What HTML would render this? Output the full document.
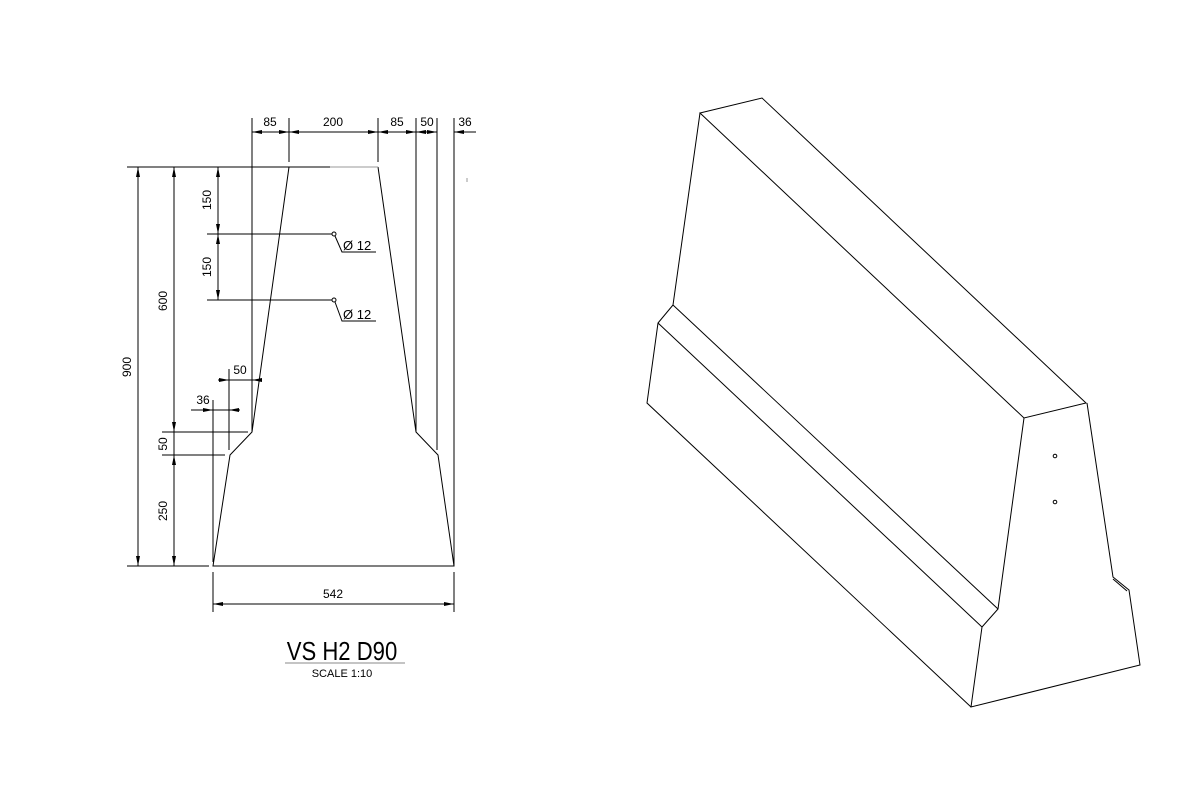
<!DOCTYPE html>
<html><head><style>html,body{margin:0;padding:0;background:#fff}svg{display:block}text{font-family:"Liberation Sans",sans-serif;fill:#000}</style></head>
<body>
<svg width="1200" height="800" viewBox="0 0 1200 800" xmlns="http://www.w3.org/2000/svg">
<defs>
<marker id="a" viewBox="0 0 10 4" refX="10" refY="2" markerWidth="10" markerHeight="4" orient="auto-start-reverse" markerUnits="userSpaceOnUse"><path d="M0,0 L10,2 L0,4 z" fill="#000"/></marker>
</defs>
<g stroke="#000" stroke-width="1" fill="none">
<polyline points="289,167 252,432 230,455 213,566 454,566 438,455 416,432 378,167"/>
<line x1="127" y1="167" x2="330" y2="167"/>
<line x1="330" y1="167" x2="378" y2="167" stroke="#999"/>
<line x1="127" y1="566" x2="209" y2="566"/>
<line x1="252" y1="118" x2="252" y2="432"/>
<line x1="289" y1="118" x2="289" y2="162"/>
<line x1="378" y1="118" x2="378" y2="162"/>
<line x1="416" y1="118" x2="416" y2="432"/>
<line x1="437" y1="118" x2="437" y2="450"/>
<line x1="454" y1="118" x2="454" y2="566"/>
<line x1="467" y1="178" x2="467" y2="182" stroke="#999"/>
<line x1="252" y1="132" x2="289" y2="132" marker-start="url(#a)" marker-end="url(#a)"/>
<line x1="289" y1="132" x2="378" y2="132" marker-start="url(#a)" marker-end="url(#a)"/>
<line x1="378" y1="132" x2="416" y2="132" marker-start="url(#a)" marker-end="url(#a)"/>
<line x1="416" y1="132" x2="437" y2="132" marker-start="url(#a)" marker-end="url(#a)"/>
<line x1="454" y1="132" x2="476" y2="132"/>
<line x1="464" y1="132" x2="454" y2="132" marker-end="url(#a)"/>
<line x1="138" y1="167" x2="138" y2="566" marker-start="url(#a)" marker-end="url(#a)"/>
<line x1="174" y1="167" x2="174" y2="432" marker-start="url(#a)" marker-end="url(#a)"/>
<line x1="174" y1="432" x2="174" y2="455"/>
<line x1="174" y1="455" x2="174" y2="566" marker-start="url(#a)" marker-end="url(#a)"/>
<line x1="218" y1="167" x2="218" y2="234" marker-start="url(#a)" marker-end="url(#a)"/>
<line x1="218" y1="234" x2="218" y2="300" marker-start="url(#a)" marker-end="url(#a)"/>
<line x1="207" y1="234" x2="332" y2="234"/>
<line x1="207" y1="300" x2="332" y2="300"/>
<circle cx="334" cy="234" r="2"/><circle cx="334" cy="300" r="2"/>
<polyline points="335,236 342,252 376,252"/>
<polyline points="335,302 342,321 376,321"/>
<line x1="162" y1="432" x2="248" y2="432"/>
<line x1="162" y1="455" x2="225" y2="455"/>
<line x1="229" y1="369" x2="229" y2="450"/>
<line x1="218" y1="380" x2="229" y2="380" marker-end="url(#a)"/>
<line x1="229" y1="380" x2="262" y2="380"/>
<line x1="262" y1="380" x2="252" y2="380" marker-end="url(#a)"/>
<line x1="213" y1="400" x2="213" y2="562"/>
<line x1="191" y1="410" x2="213" y2="410" marker-end="url(#a)"/>
<line x1="213" y1="410" x2="240" y2="410"/>
<line x1="240" y1="410" x2="229" y2="410" marker-end="url(#a)"/>
<line x1="213" y1="572" x2="213" y2="612"/>
<line x1="454" y1="572" x2="454" y2="612"/>
<line x1="213" y1="604" x2="454" y2="604" marker-start="url(#a)" marker-end="url(#a)"/>
<line x1="285" y1="663" x2="405" y2="663" stroke="#888"/>
<polygon points="700,113 762,98 1086,403 1024,418"/>
<polyline points="700,113 673,305 658,323 647,403 971,707"/>
<line x1="673" y1="305" x2="998" y2="609"/>
<line x1="658" y1="323" x2="982" y2="627"/>
<polyline points="1024,418 998,609 982,627 971,707 1140,665 1129,590 1113,577 1087,403"/>
<line x1="1113" y1="579" x2="1127" y2="591"/>
<circle cx="1055" cy="456" r="1.8"/><circle cx="1055" cy="502" r="1.8"/>
</g>
<g font-size="12" text-anchor="middle">
<text x="270" y="126">85</text><text x="333" y="126">200</text><text x="397" y="126">85</text><text x="427" y="126">50</text><text x="465" y="126">36</text>
<text x="240" y="374">50</text><text x="203" y="404">36</text>
<text x="333" y="598">542</text>
<text transform="translate(131,367) rotate(-90)">900</text>
<text transform="translate(167,301) rotate(-90)">600</text>
<text transform="translate(167,444) rotate(-90)">50</text>
<text transform="translate(167,511) rotate(-90)">250</text>
<text transform="translate(211,200) rotate(-90)">150</text>
<text transform="translate(211,267) rotate(-90)">150</text>
</g>
<text x="343" y="250" font-size="13">Ø 12</text>
<text x="343" y="319" font-size="13">Ø 12</text>
<text x="342" y="660" font-size="26" text-anchor="middle" transform="translate(342,0) scale(0.85,1) translate(-342,0)">VS H2 D90</text>
<text x="342" y="677" font-size="11" text-anchor="middle">SCALE  1:10</text>
</svg>
</body></html>
